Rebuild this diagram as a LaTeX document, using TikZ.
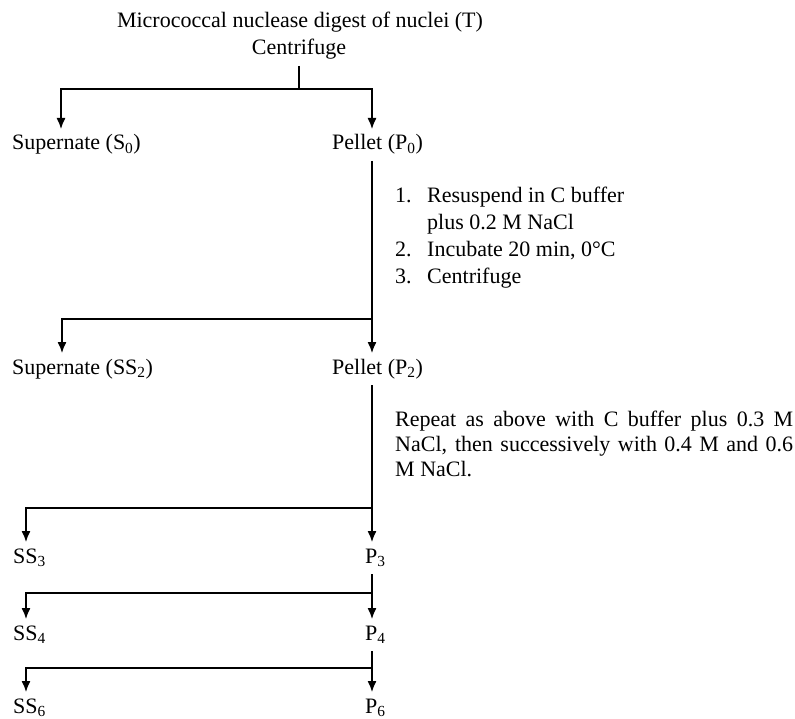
\documentclass[tikz,border=0pt]{standalone}
\usepackage{fontspec}
\setmainfont{Liberation Serif}
\usetikzlibrary{arrows.meta}
\begin{document}
\begin{tikzpicture}[x=1pt,y=-1pt,
  every node/.style={font=\fontsize{22}{27}\selectfont, inner sep=0pt},
  lbl/.style={anchor=base west, text height=15pt, text depth=5pt, outer ysep=6pt},
  conn/.style={line width=1.3pt},
  arr/.style={conn, -{Latex[length=11pt,width=9pt]}}]
\useasboundingbox (0,0) rectangle (795,719);
% title
\node[anchor=base] (t1) at (300,28) {Micrococcal nuclease digest of nuclei (T)};
\node[anchor=base, text depth=5pt, outer ysep=6pt] (t2) at (299,55) {Centrifuge};
\coordinate (j0) at (299,89);
\coordinate (j0L) at (61,89);
\coordinate (j0R) at (372,89);
\node[lbl] (s0) at (12,150) {Supernate (S\textsubscript{0})};
\node[lbl] (p0) at (332,150) {Pellet (P\textsubscript{0})};
\draw[conn] (t2.south) -- (j0);
\draw[arr] (j0) -- (j0L) -- (j0L |- s0.north);
\draw[arr] (j0) -- (j0R) -- (j0R |- p0.north);
% steps
\node[anchor=base west] (steps) at (395,203) {\begin{tabular}[t]{@{}l@{}l@{}}
\makebox[32pt][l]{1.} & Resuspend in C buffer\\
 & plus 0.2 M NaCl\\
\makebox[32pt][l]{2.} & Incubate 20 min, 0°C\\
\makebox[32pt][l]{3.} & Centrifuge
\end{tabular}};
\coordinate (j1R) at (372,319);
\coordinate (j1L) at (62,319);
\node[lbl] (ss2) at (12,374) {Supernate (SS\textsubscript{2})};
\node[lbl] (p2) at (332,374) {Pellet (P\textsubscript{2})};
\draw[conn] (j1R |- p0.south) -- (j1R);
\draw[arr] (j1R) -- (j1R |- p2.north);
\draw[arr] (j1R) -- (j1L) -- (j1L |- ss2.north);
% repeat text
\node[anchor=base west] (rep) at (395,426) {\parbox[t]{398pt}{\fontsize{22}{25}\selectfont\tolerance=10000\hbadness=10000
Repeat as above with C buffer plus 0.3 M\linebreak NaCl, then successively with 0.4 M and 0.6\linebreak M NaCl.}};
\coordinate (j2R) at (372,508);
\coordinate (j2L) at (26,508);
\node[lbl] (ss3) at (13,563) {SS\textsubscript{3}};
\node[lbl] (p3) at (365,563) {P\textsubscript{3}};
\draw[conn] (j2R |- p2.south) -- (j2R);
\draw[arr] (j2R) -- (j2R |- p3.north);
\draw[arr] (j2R) -- (j2L) -- (j2L |- ss3.north);
\coordinate (j3R) at (372,593);
\coordinate (j3L) at (26,593);
\node[lbl] (ss4) at (13,640) {SS\textsubscript{4}};
\node[lbl] (p4) at (365,640) {P\textsubscript{4}};
\draw[conn] (j3R |- p3.south) -- (j3R);
\draw[arr] (j3R) -- (j3R |- p4.north);
\draw[arr] (j3R) -- (j3L) -- (j3L |- ss4.north);
\coordinate (j4R) at (372,668);
\coordinate (j4L) at (26,668);
\node[lbl] (ss6) at (13,713) {SS\textsubscript{6}};
\node[lbl] (p6) at (365,713) {P\textsubscript{6}};
\draw[conn] (j4R |- p4.south) -- (j4R);
\draw[arr] (j4R) -- (j4R |- p6.north);
\draw[arr] (j4R) -- (j4L) -- (j4L |- ss6.north);
\end{tikzpicture}
\end{document}
